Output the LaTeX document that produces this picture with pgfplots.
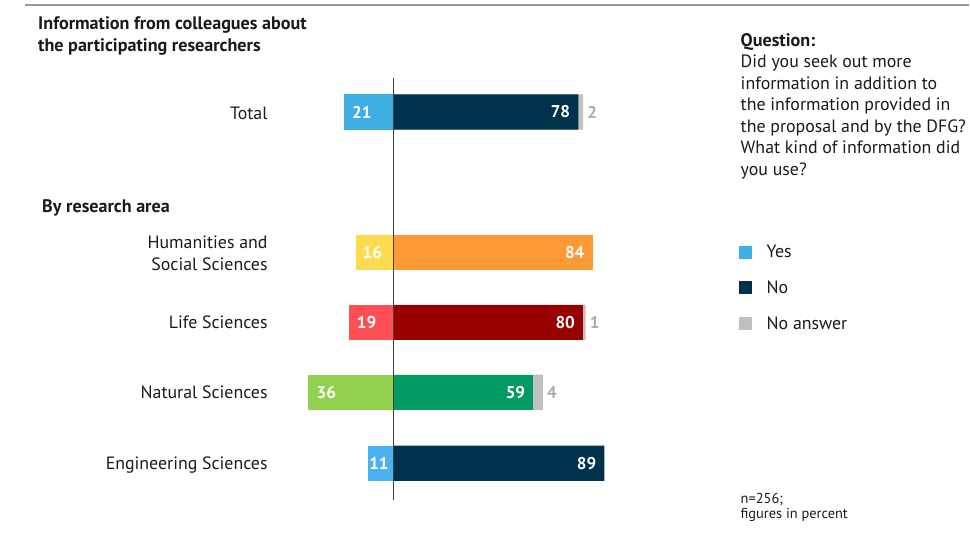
\documentclass[border=0pt]{standalone}
\usepackage{fontspec}
\setmainfont{PT Sans}
\usepackage{pgfplots}
\pgfplotsset{compat=1.18}
\definecolor{yesblue}{HTML}{3FAEE3}
\definecolor{nonavy}{HTML}{00324E}
\definecolor{nagray}{HTML}{C0C0C0}
\definecolor{nalabel}{HTML}{AAAAAA}
\definecolor{humyes}{HTML}{FDDA50}
\definecolor{humno}{HTML}{FD9A36}
\definecolor{lifeyes}{HTML}{FF4F55}
\definecolor{lifeno}{HTML}{990000}
\definecolor{natyes}{HTML}{92D050}
\definecolor{natno}{HTML}{039A63}
\definecolor{engyes}{HTML}{48B1EE}
\definecolor{txt}{HTML}{1A1A1A}
\tikzset{lab/.style={font=\fontsize{12.8}{14}\selectfont\bfseries, text=white, inner sep=0pt},
  nal/.style={font=\fontsize{12.8}{14}\selectfont\bfseries, text=nalabel, inner sep=0pt, anchor=west, xshift=3pt},
  bt/.style={font=\fontsize{13.6}{15}\selectfont\bfseries, anchor=base west},
  nt/.style={font=\fontsize{13.4}{15}\selectfont},
  sm/.style={font=\fontsize{10.8}{12}\selectfont, anchor=base west}}
\begin{document}
\begin{tikzpicture}
\begin{scope}[x=0.75pt,y=-0.75pt]
\path[use as bounding box] (0,0) rectangle (970,534);
\end{scope}
\begin{axis}[at={(0pt,0pt)}, anchor=north west, scale only axis,
  width=727.5pt, height=400.5pt,
  xmin=-166.24, xmax=243.04, ymin=0, ymax=534, y dir=reverse,
  hide axis, clip=false,
  xbar, bar width=26.5pt,
  every axis plot/.append style={xbar, bar shift=0pt, draw=none}]
% No answer (cumulative No + No answer)
\addplot[fill=nagray] coordinates {(80,112) (81,322.5) (63,392.5)};
% No
\addplot[fill=nonavy] coordinates {(78,112) (89,463.5)};
\addplot[fill=humno] coordinates {(84,252.5)};
\addplot[fill=lifeno] coordinates {(80,322.5)};
\addplot[fill=natno] coordinates {(59,392.5)};
% Yes
\addplot[fill=yesblue] coordinates {(-21,112)};
\addplot[fill=humyes] coordinates {(-16,252.5)};
\addplot[fill=lifeyes] coordinates {(-19,322.5)};
\addplot[fill=natyes] coordinates {(-36,392.5)};
\addplot[fill=engyes] coordinates {(-11,463.5)};
\draw[black!75, line width=0.8pt] (axis cs:0,78) -- (axis cs:0,500);
% labels
\node[lab, anchor=west, xshift=6pt] at (axis cs:-21,112) {21};
\node[lab, anchor=west, xshift=5pt] at (axis cs:-16,252.5) {16};
\node[lab, anchor=west, xshift=6pt] at (axis cs:-19,322.5) {19};
\node[lab, anchor=west, xshift=6pt] at (axis cs:-36,392.5) {36};
\node[lab, anchor=west, xshift=1pt] at (axis cs:-11,463.5) {11};
\node[lab, anchor=east, xshift=-6pt] at (axis cs:78,112) {78};
\node[lab, anchor=east, xshift=-6pt] at (axis cs:84,252.5) {84};
\node[lab, anchor=east, xshift=-6pt] at (axis cs:80,322.5) {80};
\node[lab, anchor=east, xshift=-6pt] at (axis cs:59,392.5) {59};
\node[lab, anchor=east, xshift=-6pt] at (axis cs:89,463.5) {89};
\node[nal] at (axis cs:80,112) {2};
\node[nal] at (axis cs:81,322.5) {1};
\node[nal] at (axis cs:63,392.5) {4};
\end{axis}
\begin{scope}[x=0.75pt,y=-0.75pt, every node/.style={inner sep=0pt, text=txt}]
\draw[gray!80, line width=1.1pt] (25,5) -- (970,5);
\node[bt] at (38,29.5) {Information from colleagues about};
\node[bt] at (38,51.5) {the participating researchers};
\node[bt] at (42,212.5) {By research area};
\node[nt, anchor=base east] at (268,119.5) {Total};
\node[nt, anchor=base east] at (268,248.5) {Humanities and};
\node[nt, anchor=base east] at (268,270.5) {Social Sciences};
\node[nt, anchor=base east] at (268,328.5) {Life Sciences};
\node[nt, anchor=base east] at (268,398.5) {Natural Sciences};
\node[nt, anchor=base east] at (268,469.5) {Engineering Sciences};
\node[bt] at (741,46.5) {Question:};
\node[nt, anchor=base west] at (741,68) {Did you seek out more};
\node[nt, anchor=base west] at (741,89.5) {information in addition to};
\node[nt, anchor=base west] at (741,111) {the information provided in};
\node[nt, anchor=base west] at (741,132.5) {the proposal and by the DFG?};
\node[nt, anchor=base west] at (741,154) {What kind of information did};
\node[nt, anchor=base west] at (741,175.5) {you use?};
\fill[yesblue] (740,246) rectangle (753,259);
\fill[nonavy] (740,281) rectangle (753,294);
\fill[nagray] (740,317) rectangle (753,330);
\node[nt, anchor=base west] at (767,257.5) {Yes};
\node[nt, anchor=base west] at (767,293.5) {No};
\node[nt, anchor=base west] at (767,329.5) {No answer};
\node[sm] at (741,504) {n=256;};
\node[sm] at (741,519) {figures in percent};
\end{scope}
\end{tikzpicture}
\end{document}
